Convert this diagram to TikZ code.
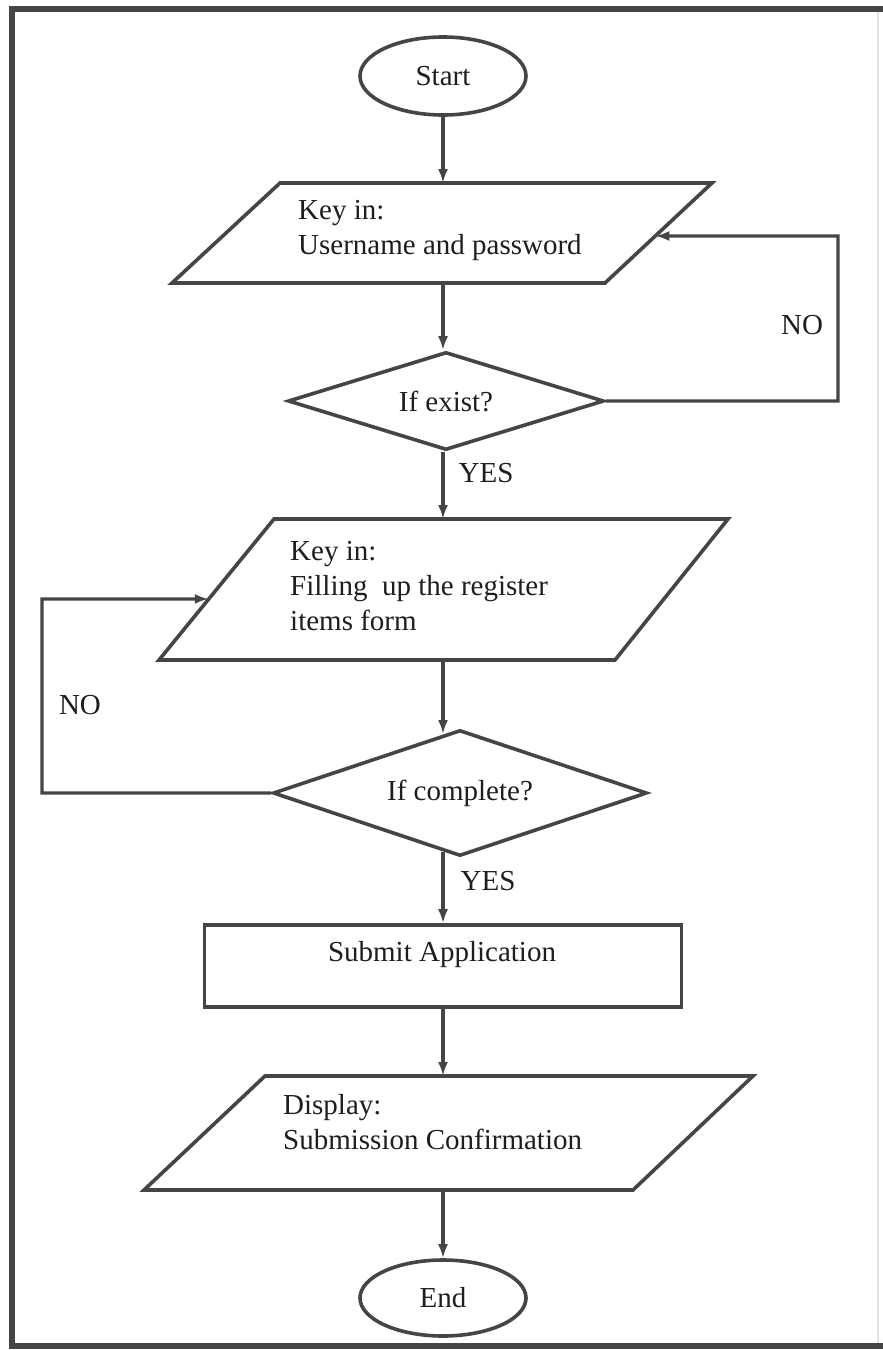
\documentclass[tikz,border=0pt]{standalone}
\usepackage{fontspec}
\setmainfont{Liberation Serif}
\usetikzlibrary{shapes.geometric,arrows.meta,calc}
\definecolor{ink}{HTML}{454545}
\definecolor{txtc}{HTML}{1E1E1E}
\definecolor{edge}{HTML}{E2E2E2}
\begin{document}
\begin{tikzpicture}[x=1pt,y=-1pt,
  shp/.style={draw=ink,line width=3.6pt,fill=white},
  arr/.style={draw=ink,line width=3.2pt,-{Latex[length=14pt,width=10pt]}},
  txt/.style={text=txtc,font=\fontsize{29}{35}\selectfont,inner sep=0pt},
  term/.style={shp,ellipse,inner sep=0pt,minimum width=166pt,text=txtc,font=\fontsize{29}{35}\selectfont},
  decide/.style={shp,diamond,inner sep=0pt,text=txtc,font=\fontsize{29}{35}\selectfont},
  hold/.style={inner sep=0pt,outer sep=0pt,draw=none}
]
\useasboundingbox (0,0) rectangle (883,1350);

% page frame
\draw[edge,line width=1.5pt] (878,12) -- (878,1344);
\draw[ink,line width=5.5pt] (883,9) -- (12,9) -- (12,1346) -- (883,1346);

% start
\node[term,minimum height=78pt] (start) at (443,76) {Start};

% input: user name and password
\coordinate (p1a) at (172,283);
\coordinate (p1b) at (280,183);
\coordinate (p1c) at (712,183);
\coordinate (p1d) at (605,283);
\draw[shp] (p1a) -- (p1b) -- (p1c) -- (p1d) -- cycle;
\node[hold,minimum width=300pt,minimum height=100pt] (in1) at (443,233) {};
\node[txt,anchor=west,align=left] (t1) at (298,230) {Key in:\\Username and password};

% check existence
\node[decide,aspect=3.2,minimum width=316pt,minimum height=98pt] (d1) at (446,401) {If exist?};

% input: register form
\coordinate (p2a) at (159,660);
\coordinate (p2b) at (274,519);
\coordinate (p2c) at (728,519);
\coordinate (p2d) at (615,660);
\draw[shp] (p2a) -- (p2b) -- (p2c) -- (p2d) -- cycle;
\node[hold,minimum width=300pt,minimum height=141pt] (in2) at (443,589.5) {};
\node[txt,anchor=west,align=left] (t2) at (290,586) {Key in:\\Filling\ \ up the register\\items form};

% check completeness
\node[decide,aspect=3,minimum width=374pt,minimum height=126pt] (d2) at (460,793) {If complete?};

% submit
\node[shp,rectangle,minimum width=477pt,minimum height=82pt] (sub) at (443,966) {};
\node[txt] (subt) at (442,955) {Submit Application};

% output: confirmation
\coordinate (p3a) at (144,1190);
\coordinate (p3b) at (265,1076);
\coordinate (p3c) at (753,1076);
\coordinate (p3d) at (633,1190);
\draw[shp] (p3a) -- (p3b) -- (p3c) -- (p3d) -- cycle;
\node[hold,minimum width=300pt,minimum height=114pt] (out3) at (443,1133) {};
\node[txt,anchor=west,align=left] (t3) at (283,1122) {Display:\\Submission Confirmation};

% end
\node[term,minimum height=76pt] (end) at (443,1298) {End};

% loop-back points
\coordinate (r1) at (838,236);
\coordinate (p1in) at ($(p1d)!0.47!(p1c)$);
\coordinate (l2) at (42,599);
\coordinate (p2in) at ($(p2a)!0.433!(p2b)$);
\coordinate (d2in) at ($(d2.north)!0.09!(d2.west)$);
\coordinate (d2out) at ($(d2.south)!0.09!(d2.west)$);

% flow
\draw[arr] (start.south) -- (in1.north);
\draw[arr] (in1.south) -- (d1.north -| in1.south);
\draw[arr] (d1.east) -| (r1) -- (p1in);
\draw[arr] (d1.south -| in2.north) -- (in2.north);
\draw[arr] (in2.south) -- (in2.south |- d2in);
\draw[arr] (d2.west) -| (l2) -- (p2in);
\draw[arr] (sub.north |- d2out) -- (sub.north);
\draw[arr] (sub.south) -- (out3.north);
\draw[arr] (out3.south) -- (end.north);

% branch labels
\node[txt] (no1) at (802,325) {NO};
\node[txt] (yes1) at (486,473) {YES};
\node[txt] (no2) at (80,705) {NO};
\node[txt] (yes2) at (488,881) {YES};
\end{tikzpicture}
\end{document}
